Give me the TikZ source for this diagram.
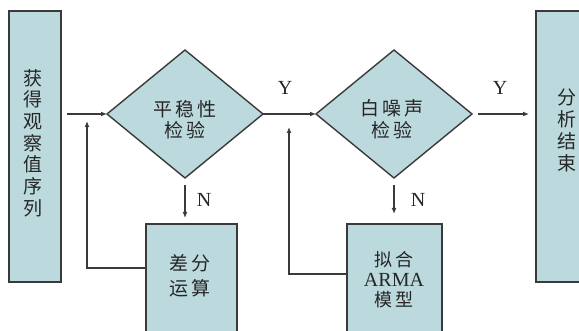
\documentclass[tikz,border=0pt]{standalone}
\usepackage{fontspec}
\setmainfont{Liberation Serif}
\newfontfamily\cjk{Noto Sans CJK SC}
\usetikzlibrary{arrows.meta,shapes.geometric}
\definecolor{boxfill}{RGB}{188,218,221}
\definecolor{edgecol}{RGB}{58,58,58}
\tikzset{
 box/.style={draw=edgecol, fill=boxfill, line width=1.4pt, inner sep=0pt, outer sep=0pt},
 dia/.style={diamond, draw=edgecol, fill=boxfill, line width=1.4pt, inner sep=0pt, outer sep=0pt, minimum width=156pt, minimum height=128pt},
 txt/.style={inner sep=0pt, align=center, font=\cjk\fontsize{19}{21.7}\selectfont, text=black!85},
 lat/.style={inner sep=0pt, font=\fontsize{20}{22}\selectfont, text=black!85},
 conn/.style={draw=edgecol, line width=1.2pt, -{Latex[length=6pt,width=5pt]}},
}
\begin{document}
\begin{tikzpicture}[x=1pt,y=-1pt]
\useasboundingbox (0,0) rectangle (579,331);
\clip (0,0) rectangle (579,331);
\fill[white] (0,0) rectangle (579,331);
% boxes
\node[box, minimum width=52pt, minimum height=271pt, anchor=north west] (src) at (9,11) {};
\node[dia] (d1) at (185,114) {};
\node[dia] (d2) at (394,114) {};
\node[box, minimum width=91pt, minimum height=130pt, anchor=north west] (diff) at (146,224) {};
\node[box, minimum width=95pt, minimum height=130pt, anchor=north west] (arma) at (347,224) {};
\node[box, minimum width=80pt, minimum height=271pt, anchor=north west] (fin) at (536,11) {};
% texts
\node[txt] (tsrc) at (33,143) {获\\得\\观\\察\\值\\序\\列};
\node[txt, font=\cjk\fontsize{19}{21.5}\selectfont] (td1) at (185,119.5) {平\,稳\,性\\检\,验};
\node[txt, font=\cjk\fontsize{19}{21.5}\selectfont] (td2) at (392,119) {白\,噪\,声\\检\,验};
\node[txt, font=\cjk\fontsize{19}{25}\selectfont] (tdiff) at (190,275.5) {差\,分\\运\,算};
\node[txt, font=\cjk\fontsize{18}{20}\selectfont] (tarma) at (394,280) {拟\,合\\{\rmfamily\fontsize{20}{20}\selectfont ARMA}\\模\,型};
\node[txt] (tfin) at (567,130.5) {分\\析\\结\\束};
% connectors
\coordinate (fb1top) at (87,121);
\coordinate (fb1low) at (87,268);
\coordinate (fb2top) at (289,127);
\coordinate (fb2low) at (289,274);
\draw[conn, shorten <=6pt] (src.east |- d1.west) -- (d1.west);
\draw[conn] (d1.east) -- (d2.west);
\draw[conn, shorten <=6pt, shorten >=7pt] (d2.east) -- (fin.west |- d2.east);
\draw[conn, shorten <=7pt, shorten >=6pt] (d1.south) -- (diff.north -| d1.south);
\draw[conn, shorten <=7pt, shorten >=10pt] (d2.south) -- (arma.north -| d2.south);
\draw[conn] (diff.west |- fb1low) -| (fb1top);
\draw[conn] (arma.west |- fb2low) -| (fb2top);
% labels
\node[lat] (y1) at (285,88) {Y};
\node[lat] (y2) at (500,88) {Y};
\node[lat] (n1) at (204,200) {N};
\node[lat] (n2) at (418,200) {N};
\end{tikzpicture}
\end{document}
